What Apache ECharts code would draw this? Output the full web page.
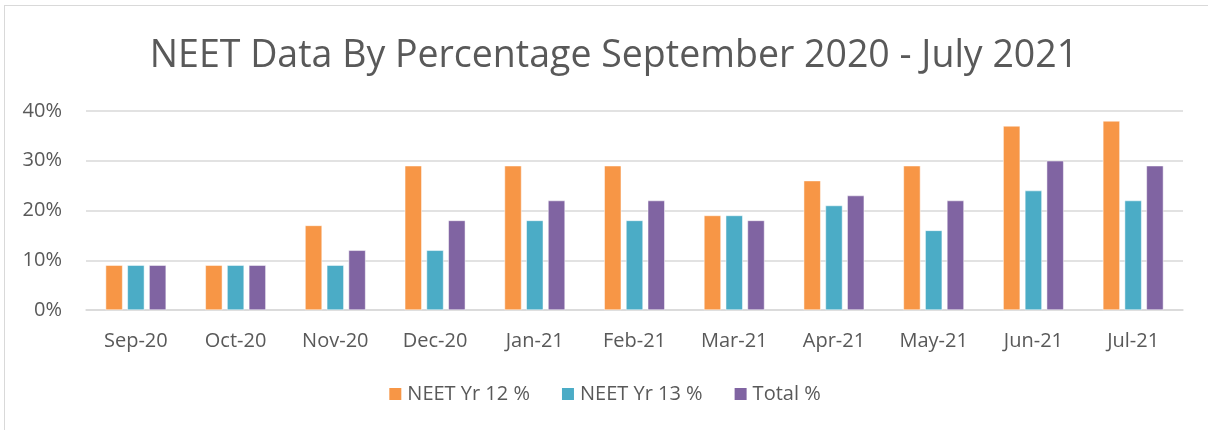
<!DOCTYPE html>
<html>
<head>
<meta charset="utf-8">
<script src="https://cdn.jsdelivr.net/npm/echarts@6/dist/echarts.min.js"></script>
<style>
  html, body { margin: 0; padding: 0; background: #fff; }
  #main { width: 1208px; height: 430px; }
  .frame {
    position: absolute; left: 4px; top: 5px; width: 1220px; height: 440px;
    border: 1px solid #d9d9d9; pointer-events: none;
  }
</style>
</head>
<body>
<div id="main"></div>
<div class="frame"></div>
<script>
const months = ['Sep-20', 'Oct-20', 'Nov-20', 'Dec-20', 'Jan-21', 'Feb-21', 'Mar-21', 'Apr-21', 'May-21', 'Jun-21', 'Jul-21'];
const yr12 = [9, 9, 17, 29, 29, 29, 19, 26, 29, 37, 38];
const yr13 = [9, 9, 9, 12, 18, 18, 19, 21, 16, 24, 22];
const total = [9, 9, 12, 18, 22, 22, 18, 23, 22, 30, 29];

const font = 'Open Sans';
const textColor = '#595959';

const chart = echarts.init(document.getElementById('main'));

function barSeries(name, data, color) {
  return {
    name: name,
    type: 'bar',
    data: data,
    barWidth: 17,
    barGap: '28%',
    itemStyle: { color: color, borderColor: '#fff', borderWidth: 0.5 },
    animation: false
  };
}

chart.setOption({
  animation: false,
  title: {
    text: 'NEET Data By Percentage September 2020 - July 2021',
    left: 609,
    textAlign: 'center',
    top: 32,
    textStyle: { fontFamily: font, fontSize: 37.5, fontWeight: 'normal', color: textColor }
  },
  grid: { left: 86, right: 25, top: 111, bottom: 120 },
  legend: {
    bottom: 21,
    left: 'center',
    itemWidth: 14,
    itemHeight: 14,
    itemGap: 30,
    icon: 'rect',
    textStyle: { fontFamily: font, fontSize: 20, color: textColor }
  },
  xAxis: {
    type: 'category',
    data: months,
    axisLine: { lineStyle: { color: '#d9d9d9', width: 1.5 } },
    axisTick: { show: false },
    axisLabel: { fontFamily: font, fontSize: 20, color: textColor, margin: 21 }
  },
  yAxis: {
    type: 'value',
    min: 0,
    max: 40,
    interval: 10,
    axisLine: { show: false },
    axisTick: { show: false },
    splitLine: { lineStyle: { color: '#d9d9d9', width: 1.5 } },
    axisLabel: { fontFamily: font, fontSize: 20, color: textColor, margin: 24, formatter: '{value}%' }
  },
  series: [
    barSeries('NEET Yr 12 %', yr12, '#f79646'),
    barSeries('NEET Yr 13 %', yr13, '#4bacc6'),
    barSeries('Total %', total, '#8064a2')
  ]
});
</script>
</body>
</html>
